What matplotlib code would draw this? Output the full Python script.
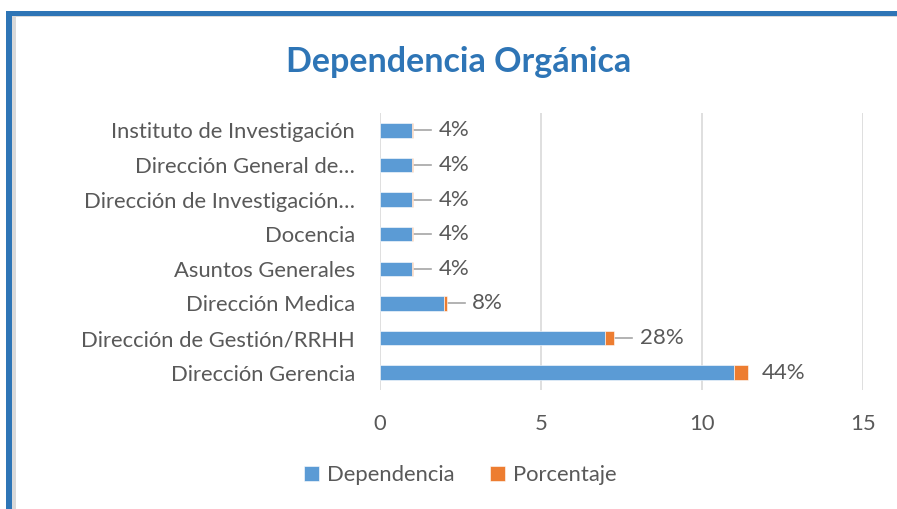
import matplotlib as mpl
mpl.use('Agg')
import matplotlib.pyplot as plt
from matplotlib.patches import Rectangle

mpl.rcParams['font.family'] = ['Lato', 'DejaVu Sans']

categorias = ['Dirección Gerencia', 'Dirección de Gestión/RRHH', 'Dirección Medica',
              'Asuntos Generales', 'Docencia', 'Dirección de Investigación…',
              'Dirección General de…', 'Instituto de Investigación']
dependencia = [11, 7, 2, 1, 1, 1, 1, 1]
porcentaje = [0.44, 0.28, 0.08, 0.04, 0.04, 0.04, 0.04, 0.04]

BLUE = '#5B9BD5'
ORANGE = '#ED7D31'
TXT = '#595959'
GRID = '#D9D9D9'

fig = plt.figure(figsize=(8.97, 5.09), dpi=100)
ax = fig.add_axes([0.4236, 0.2338, 0.5385, 0.5442])

y = list(range(len(categorias)))
ax.barh(y, dependencia, height=0.42, color=BLUE, edgecolor='white', linewidth=0.4,
        label='Dependencia', zorder=3)
ax.barh(y, porcentaje, left=dependencia, height=0.42, color=ORANGE, edgecolor='white',
        linewidth=0.4, label='Porcentaje', zorder=3)

for i, (d, p) in enumerate(zip(dependencia, porcentaje)):
    end = d + p
    if i > 0:
        ax.plot([end + 0.02, end + 0.55], [i, i], color='#A6A6A6', lw=1.2, zorder=2)
    ax.text(end + 0.78 if i > 0 else end + 0.42, i, f'{p:.0%}', va='center', ha='left',
            fontsize=16, color=TXT)

ax.set_xlim(0, 15)
ax.set_ylim(-0.5, len(categorias) - 0.5)
ax.set_xticks([0, 5, 10, 15])
ax.set_yticks(y)
ax.set_yticklabels(categorias)
ax.tick_params(axis='both', length=0, labelsize=15.8, labelcolor=TXT)
ax.tick_params(axis='x', pad=17)
ax.tick_params(axis='y', pad=18)
ax.grid(axis='x', color=GRID, lw=1.2, zorder=0)
for s in ax.spines.values():
    s.set_visible(False)

fig.text(0.511, 0.879, 'Dependencia Orgánica', ha='center', va='center',
         fontsize=24.5, fontweight='bold', color='#2E75B6')

fig.legend(loc='center', bbox_to_anchor=(0.513, 0.067), ncol=2, frameon=False,
           fontsize=15.8, labelcolor=TXT, handlelength=0.7, handleheight=0.7,
           handletextpad=0.35, columnspacing=1.6)

# marco del gráfico
fig.add_artist(Rectangle((12 / 897, 0), 4 / 897, 1 - 16 / 509, transform=fig.transFigure,
                         color='#D9D9D9', lw=0))
fig.add_artist(Rectangle((12 / 897, 1 - 17 / 509), 1, 2 / 509, transform=fig.transFigure,
                         color='#D9D9D9', lw=0))
fig.add_artist(Rectangle((6 / 897, 0), 6 / 897, 1 - 11 / 509, transform=fig.transFigure,
                         color='#2E75B6', lw=0))
fig.add_artist(Rectangle((6 / 897, 1 - 16 / 509), 1, 5 / 509, transform=fig.transFigure,
                         color='#2E75B6', lw=0))

fig.savefig('out.png', dpi=100)
